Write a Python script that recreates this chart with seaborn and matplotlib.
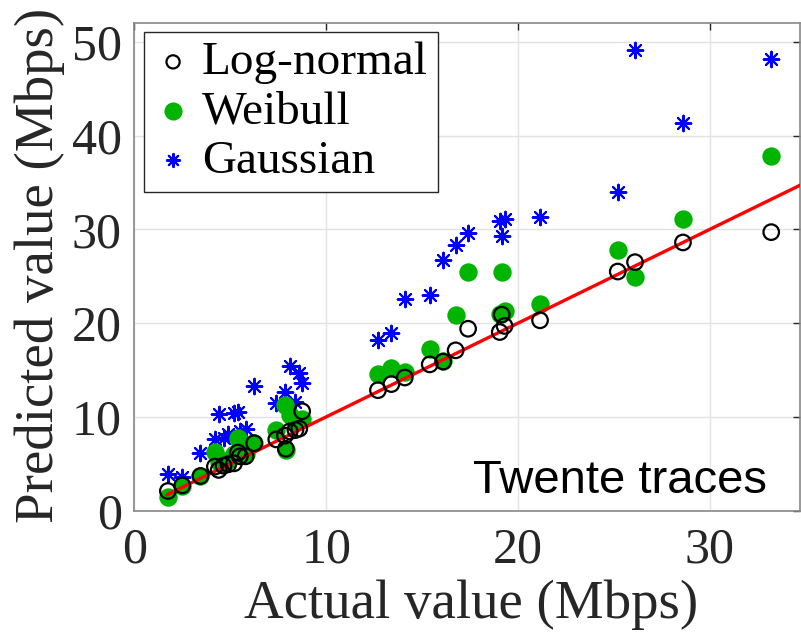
import numpy as np
import pandas as pd
import matplotlib
matplotlib.use("Agg")
import matplotlib.pyplot as plt
import seaborn as sns

# Actual throughput of each trace (Mbps)
actual = [1.75, 2.5, 3.45, 4.2, 4.4, 4.65, 4.9, 5.2, 5.4, 5.5, 5.8, 6.25,
          7.4, 7.85, 7.9, 8.1, 8.4, 8.6, 8.75,
          12.7, 13.4, 14.1, 15.4, 16.1, 16.75, 17.4, 19.05, 19.15, 19.3,
          21.15, 25.2, 26.1, 28.6, 33.2]
lognormal = [2.1, 2.7, 3.7, 4.7, 4.35, 4.8, 4.95, 5.05, 6.2, 5.8, 5.8, 7.2,
             7.6, 8.0, 6.6, 8.45, 8.6, 8.75, 10.6,
             12.85, 13.5, 14.2, 15.6, 15.9, 17.1, 19.4, 19.05, 20.9, 19.7,
             20.3, 25.5, 26.5, 28.6, 29.7]
weibull = [1.5, 2.6, 3.7, 6.3, 5.2, 5.0, 5.4, 6.0, 7.7, 7.2, 6.0, 7.2,
           8.6, 11.3, 6.5, 10.2, 9.5, 9.7, 9.8,
           14.6, 15.2, 14.8, 17.2, 16.0, 20.9, 25.4, 21.0, 25.5, 21.3,
           22.0, 27.8, 24.9, 31.1, 37.8]
gaussian = [3.9, 3.6, 6.2, 7.6, 10.3, 7.8, 8.2, 10.4, 10.5, 8.5, 8.7, 13.3,
            11.45, 12.7, 11.2, 15.4, 11.6, 14.7, 13.6,
            18.2, 18.9, 22.6, 23.0, 26.7, 28.3, 29.6, 30.9, 29.3, 31.1,
            31.3, 34.0, 49.1, 41.3, 48.2]
fit_x = [1.7, 35.0]
fit_y = [1.7, 35.0]

df = pd.DataFrame({"actual": actual, "lognormal": lognormal,
                   "weibull": weibull, "gaussian": gaussian})

sns.set_style("white")
plt.rcParams["font.family"] = ["Liberation Serif", "DejaVu Serif"]

fig = plt.figure(figsize=(8.01, 6.32), dpi=100)
ax = fig.add_axes([134.3 / 801, (632 - 510.7) / 632, (800 - 134.3) / 801, (510.7 - 23) / 632])

asterisk = (8, 2, 0)
sns.scatterplot(data=df, x="actual", y="gaussian", ax=ax, marker=asterisk,
                s=125, color="#0000ff", edgecolor="#0000ff", linewidth=1.5,
                label="Gaussian", zorder=3)
sns.scatterplot(data=df, x="actual", y="weibull", ax=ax, marker="o",
                s=175, color="#00b400", edgecolor="#00b400", linewidth=0,
                label="Weibull", zorder=4)
sns.lineplot(x=fit_x, y=fit_y, ax=ax, color="#ff0000", linewidth=2.4,
             zorder=5, legend=False)
sns.scatterplot(data=df, x="actual", y="lognormal", ax=ax, marker="o",
                s=125, facecolor="none", edgecolor="black", linewidth=1.6,
                label="Log-normal", zorder=6)
ax.collections[-1].set_facecolor("none")

ax.set_xlim(0, 34.7)
ax.set_ylim(0, 52)
ax.set_xticks([0, 10, 20, 30])
ax.set_yticks([0, 10, 20, 30, 40, 50])
ax.grid(True, color="#e3e3e3", linewidth=1.0)
ax.set_axisbelow(True)
for sp in ax.spines.values():
    sp.set_visible(True)
    sp.set_color("#888888")
    sp.set_linewidth(1.2)
ax.tick_params(axis="both", direction="in", length=5, width=1, colors="#262626",
               labelsize=36, top=True, right=True)
ax.tick_params(axis="x", pad=12)
ax.tick_params(axis="y", pad=9)

ax.set_xlabel("Actual value (Mbps)", fontsize=39.5, color="#262626")
ax.set_ylabel("Predicted value (Mbps)", fontsize=39.5, color="#262626")
ax.xaxis.set_label_coords(0.506, -0.142)
ax.yaxis.set_label_coords(-0.104, 0.502)

handles, labels = ax.get_legend_handles_labels()
order = [labels.index("Log-normal"), labels.index("Weibull"), labels.index("Gaussian")]
leg = ax.legend([handles[i] for i in order], [labels[i] for i in order],
                loc="upper left", bbox_to_anchor=(0.0146, 0.982),
                fontsize=34, frameon=True, fancybox=False, framealpha=1,
                edgecolor="#262626", handletextpad=0.2, borderpad=0.2,
                labelspacing=0.13, handlelength=0.83, borderaxespad=0)
leg.get_frame().set_linewidth(1.0)
for h, sz in zip(leg.legend_handles, [90, 170, 90]):
    h.set_sizes([sz])
for t in leg.get_texts():
    t.set_color("black")

ax.text(33.0, 1.9, "Twente traces", fontsize=34, family=["Liberation Sans"],
        ha="right", va="baseline", color="black", zorder=7)

fig.savefig("out.png", dpi=100)
